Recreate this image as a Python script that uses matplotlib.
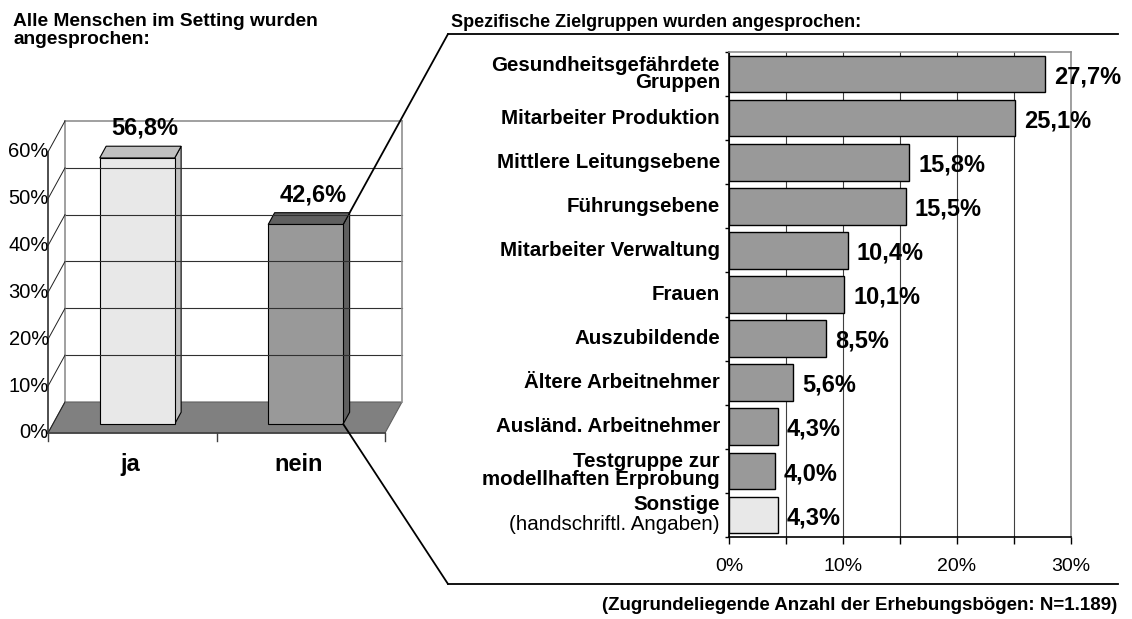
import numpy as np
import matplotlib as mpl
mpl.use('Agg')
import matplotlib.pyplot as plt
from matplotlib.patches import Polygon, ConnectionPatch
from matplotlib.lines import Line2D
from matplotlib.ticker import MultipleLocator, FixedLocator

plt.rcParams['font.family'] = ['Liberation Sans', 'DejaVu Sans']

# left chart: all people in the setting
left_cats = ['ja', 'nein']
left_vals = [56.8, 42.6]
left_labels = ['56,8%', '42,6%']
left_ticks = [0, 10, 20, 30, 40, 50, 60]

# right chart: specific target groups
groups = ['Gesundheitsgefährdete\nGruppen', 'Mitarbeiter Produktion',
          'Mittlere Leitungsebene', 'Führungsebene', 'Mitarbeiter Verwaltung',
          'Frauen', 'Auszubildende', 'Ältere Arbeitnehmer',
          'Ausländ. Arbeitnehmer', 'Testgruppe zur\nmodellhaften Erprobung',
          'Sonstige']
group_vals = [27.7, 25.1, 15.8, 15.5, 10.4, 10.1, 8.5, 5.6, 4.3, 4.0, 4.3]
group_labels = ['27,7%', '25,1%', '15,8%', '15,5%', '10,4%', '10,1%',
                '8,5%', '5,6%', '4,3%', '4,0%', '4,3%']

W, H = 1132, 619
fig = plt.figure(figsize=(W/100, H/100), dpi=100)

def fbox(x0, y0, x1, y1):
    # pixel box (from top-left) -> figure fraction rect
    return [x0/W, 1-y1/H, (x1-x0)/W, (y1-y0)/H]

# ---------- left pseudo-3D column chart ----------
ax1 = fig.add_axes(fbox(48, 152, 385, 433))
ax1.set_xlim(0, 2)
ax1.set_ylim(0, 60)
ax1.axis('off')

DX, DY = 17/168.5, 31/4.683      # depth of the wall in data units
f0, f1 = 0.29, 0.67              # bar front/back depth fractions
bw = 0.445
kw = dict(clip_on=False)

# floor
ax1.add_patch(Polygon([(0, 0), (2, 0), (2+DX, DY), (DX, DY)], closed=True,
                      fc='#808080', ec='#606060', lw=0.8, **kw))
# back wall
for v in left_ticks[1:-1]:
    ax1.plot([DX, 2+DX], [v+DY, v+DY], color='#303030', lw=0.8, **kw)
ax1.plot([DX, 2+DX], [60+DY, 60+DY], color='#909090', lw=1.2, **kw)
ax1.plot([DX, DX], [DY, 60+DY], color='#909090', lw=1.2, **kw)
ax1.plot([2+DX, 2+DX], [DY, 60+DY], color='#909090', lw=1.2, **kw)
# side wall
for v in left_ticks:
    ax1.plot([0, DX], [v, v+DY], color='#202020', lw=0.7, **kw)
ax1.plot([0, 0], [0, 60], color='#303030', lw=1.2, **kw)
ax1.plot([0, 2], [0, 0], color='#404040', lw=1.2, **kw)
for x in [0, 1, 2]:
    ax1.plot([x, x], [0, -1.8], color='#404040', lw=1.0, **kw)

for v in left_ticks:
    ax1.text(0.005, v, '%d%%' % v, ha='right', va='center', fontsize=14.5, **kw)

front_cols = ['#e8e8e8', '#999999']
top_cols = ['#c0c0c0', '#606060']
corners = []
for i, (c, v) in enumerate(zip(left_cats, left_vals)):
    xc = i + 0.5
    x0 = xc - bw/2 + f0*DX
    x1 = xc + bw/2 + f0*DX
    y0 = f0*DY
    ddx, ddy = (f1-f0)*DX, (f1-f0)*DY
    ax1.add_patch(Polygon([(x1, y0), (x1+ddx, y0+ddy), (x1+ddx, y0+v+ddy), (x1, y0+v)],
                          closed=True, fc=top_cols[i], ec='black', lw=0.8, **kw))
    ax1.add_patch(Polygon([(x0, y0+v), (x0+ddx, y0+v+ddy), (x1+ddx, y0+v+ddy), (x1, y0+v)],
                          closed=True, fc=top_cols[i], ec='black', lw=0.8, **kw))
    ax1.add_patch(Polygon([(x0, y0), (x1, y0), (x1, y0+v), (x0, y0+v)],
                          closed=True, fc=front_cols[i], ec='black', lw=0.8, **kw))
    ax1.text(xc + 0.075, v + f1*DY + 1.4, left_labels[i], ha='center', va='bottom',
             fontsize=17, fontweight='bold', **kw)
    ax1.text(xc - 0.01, -4.3, c, ha='center', va='top', fontsize=17,
             fontweight='bold', **kw)
    corners.append(((x1+ddx, y0+v+ddy), (x1, y0)))

# ---------- right horizontal bar chart ----------
ax2 = fig.add_axes(fbox(729, 52, 1071, 537))
y = np.arange(len(groups))
cols = ['#999999']*(len(groups)-1) + ['#e8e8e8']
ax2.barh(y, group_vals, height=0.83, color=cols, edgecolor='black', lw=1.0, zorder=3)
ax2.set_ylim(len(groups)-0.5, -0.5)
ax2.set_xlim(0, 30)
ax2.xaxis.set_minor_locator(MultipleLocator(5))
ax2.set_xticks([0, 10, 20, 30])
ax2.set_xticklabels(['0%', '10%', '20%', '30%'], fontsize=14)
ax2.tick_params(axis='x', which='both', direction='out', length=5, width=1, pad=10)
ax2.yaxis.set_major_locator(FixedLocator(np.arange(len(groups)+1) - 0.5))
ax2.set_yticklabels([])
ax2.tick_params(axis='y', direction='out', length=3, width=1)
ax2.grid(axis='x', which='both', color='#404040', lw=0.8, zorder=0)
for s in ['top', 'right']:
    ax2.spines[s].set_color('#909090')
    ax2.spines[s].set_linewidth(1.2)
for s in ['left', 'bottom']:
    ax2.spines[s].set_color('black')
    ax2.spines[s].set_linewidth(1.2)

for i, (g, v, t) in enumerate(zip(groups, group_vals, group_labels)):
    if g == 'Sonstige':
        ax2.annotate(g, (0, i - 0.24), xytext=(-6.5, 0), textcoords='offset points',
                     ha='right', va='center', fontsize=14.8, fontweight='bold')
        ax2.annotate('(handschriftl. Angaben)', (0, i + 0.22), xytext=(-6.5, 0),
                     textcoords='offset points', ha='right', va='center', fontsize=14.8)
    else:
        ax2.annotate(g, (0, i), xytext=(-6.5, 0), textcoords='offset points',
                     ha='right', va='center', fontsize=14.8, fontweight='bold',
                     multialignment='right', linespacing=0.92)
    ax2.annotate(t, (v, i + 0.06), xytext=(6.5, 0), textcoords='offset points',
                 ha='left', va='center', fontsize=17, fontweight='bold')

# ---------- connector lines ----------
top_pt = (448/W, 1-34/H)
bot_pt = (448/W, 1-584/H)
fig.add_artist(ConnectionPatch(corners[1][0], top_pt, coordsA='data', axesA=ax1,
                               coordsB='figure fraction', color='black', lw=1.3))
fig.add_artist(ConnectionPatch(corners[1][1], bot_pt, coordsA='data', axesA=ax1,
                               coordsB='figure fraction', color='black', lw=1.3))
fig.add_artist(Line2D([448/W, 1118/W], [1-34/H, 1-34/H], color='black', lw=1.3))
fig.add_artist(Line2D([448/W, 1118/W], [1-584/H, 1-584/H], color='black', lw=1.3))

# ---------- titles ----------
fig.text(13/W, 1-13/H, 'Alle Menschen im Setting wurden\nangesprochen:', ha='left',
         va='top', fontsize=13.8, fontweight='bold', linespacing=1.1)
fig.text(451/W, 1-27/H, 'Spezifische Zielgruppen wurden angesprochen:', ha='left',
         va='baseline', fontsize=13, fontweight='bold')
fig.text(1117/W, 1-605/H, '(Zugrundeliegende Anzahl der Erhebungsbögen: N=1.189)',
         ha='right', va='center', fontsize=13.5, fontweight='bold')

fig.savefig('out.png', dpi=100)
